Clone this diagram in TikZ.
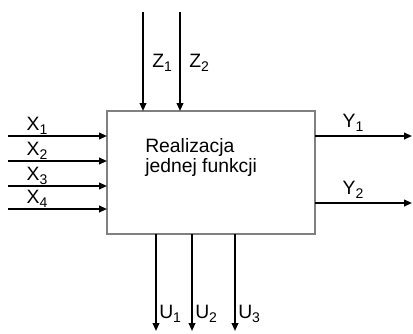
\documentclass[tikz,border=0pt]{standalone}
\usepackage{fontspec}
\setmainfont{Liberation Sans}
\usetikzlibrary{arrows.meta}
\newcommand{\idx}[1]{\raisebox{-3.5pt}{\fontsize{10.5}{12}\selectfont#1}}
\begin{document}
\begin{tikzpicture}[x=0.75pt,y=-0.75pt,
    sig/.style={line width=1.3pt,-{Triangle[length=6pt,width=5pt]}},
    lbl/.style={font=\fontsize{14.5}{16}\selectfont,inner sep=0pt}]
    \useasboundingbox (0,0) rectangle (413,333);
    % blok
    \draw[gray,line width=1pt] (107,111) rectangle (315,234);
    \coordinate (box) at (107,111);
    \node[lbl,anchor=base west,align=left] (txt) at (145,172)
        {Realizacja\\[-1pt]jednej funkcji};
    % wejscia X
    \foreach \i/\y in {1/136,2/161,3/186,4/209}{
        \coordinate (x\i) at (8,\y);
        \coordinate (xe\i) at (107,\y);
        \draw[sig] (x\i) -- (xe\i);
        \node[lbl,anchor=base] (lx\i) at (37,\y-6) {X\idx{\i}};
    }
    % sterowania Z
    \foreach \i/\x in {1/143,2/180}{
        \coordinate (z\i) at (\x,12);
        \coordinate (ze\i) at (\x,111);
        \draw[sig] (z\i) -- (ze\i);
        \node[lbl,anchor=base west] (lz\i) at (\x+9,67) {Z\idx{\i}};
    }
    % wyjscia U
    \foreach \i/\x in {1/156,2/192,3/235}{
        \coordinate (u\i) at (\x,234);
        \coordinate (ue\i) at (\x,331);
        \draw[sig] (u\i) -- (ue\i);
        \node[lbl,anchor=base west] (lu\i) at (\x+3,318) {U\idx{\i}};
    }
    % wyjscia Y
    \foreach \i/\y in {1/136,2/203}{
        \coordinate (y\i) at (315,\y);
        \coordinate (ye\i) at (412,\y);
        \draw[sig] (y\i) -- (ye\i);
        \node[lbl,anchor=base] (ly\i) at (353,\y-9) {Y\idx{\i}};
    }
\end{tikzpicture}
\end{document}
